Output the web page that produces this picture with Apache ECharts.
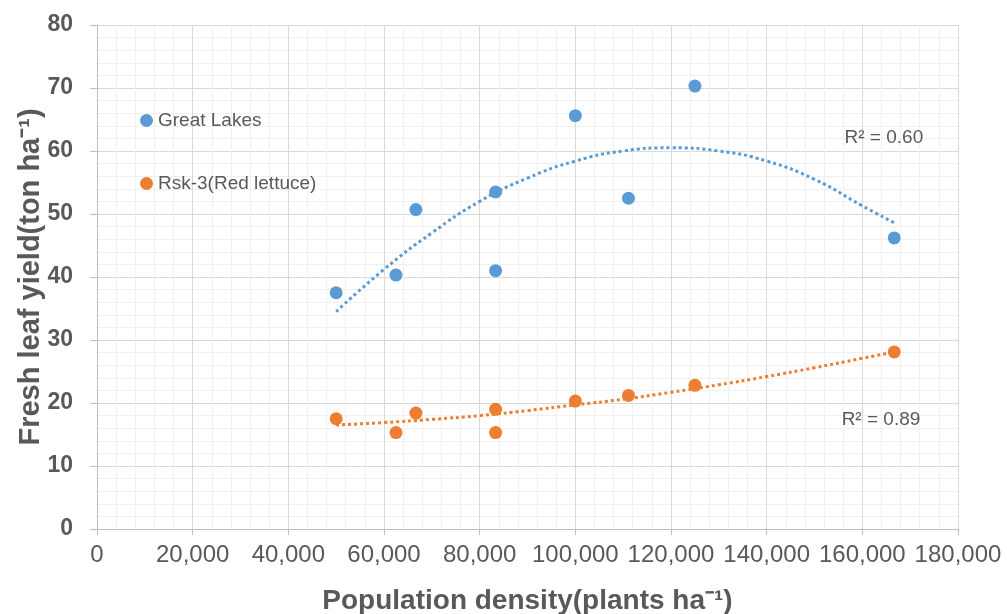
<!DOCTYPE html>
<html>
<head>
<meta charset="utf-8">
<script src="https://cdn.jsdelivr.net/npm/echarts@6/dist/echarts.min.js"></script>
<style>
  html, body { margin: 0; padding: 0; background: #fff; }
  #chart { width: 1007px; height: 614px; }
</style>
</head>
<body>
<div id="chart"></div>
<script>
// plant density (plants/ha) and yield (ton/ha)
const density = [50000, 62500, 66667, 83333, 83333, 100000, 111111, 125000, 166667]
const greatLakes = [37.5, 40.3, 50.7, 53.5, 41.0, 65.6, 52.5, 70.3, 46.2]
const redLettuce = [17.5, 15.3, 18.4, 19.0, 15.3, 20.3, 21.2, 22.8, 28.1]

// polynomial trend lines (as drawn in the figure)
const trendX = [50000, 60000, 70000, 80000, 90000, 100000, 110000, 120000, 130000, 140000, 150000, 160000, 166667]
const trendGreat = [34.5, 41.2, 47.0, 52.0, 55.7, 58.4, 60.0, 60.5, 60.0, 58.4, 55.5, 51.3, 48.6]
const trendRed = [16.5, 16.9, 17.4, 18.0, 18.8, 19.7, 20.6, 21.7, 22.9, 24.2, 25.6, 27.1, 28.1]

const r2Labels = ['R² = 0.60', 'R² = 0.89']
const r2Pos = [[164500, 62.1], [163900, 17.3]]

const names = ['Great Lakes', 'Rsk-3(Red lettuce)']
const colors = ['#5b9bd5', '#ed7d31']
const textColor = '#595959'
const font = 'Liberation Sans, Arial, sans-serif'

function pairs(xs, ys) {
  return xs.map((x, i) => [x, ys[i]])
}

let myChart = echarts.init(document.getElementById('chart'))

myChart.setOption({
  animation: false,
  backgroundColor: '#fff',
  grid: { left: 97, right: 49, top: 25, bottom: 85, containLabel: false, outerBoundsMode: 'none' },
  legend: {
    data: names,
    orient: 'vertical',
    left: 135,
    top: 106,
    itemGap: 44,
    itemWidth: 13,
    itemHeight: 13,
    icon: 'circle',
    textStyle: { color: textColor, fontSize: 19, fontFamily: font }
  },
  xAxis: {
    type: 'value',
    min: 0,
    max: 180000,
    interval: 20000,
    name: 'Population density(plants ha⁻¹)',
    nameLocation: 'middle',
    nameGap: 58,
    nameMoveOverlap: false,
    nameTextStyle: { color: textColor, fontSize: 28, fontWeight: 'bold', fontFamily: font },
    axisLine: { show: true, lineStyle: { color: '#bfbfbf', width: 1 } },
    axisTick: { show: true, length: 6, lineStyle: { color: '#bfbfbf' } },
    axisLabel: {
      color: textColor,
      fontSize: 24,
      margin: 14,
      fontFamily: font,
      formatter: v => v.toLocaleString('en-US')
    },
    splitLine: { show: true, lineStyle: { color: '#d9d9d9', width: 1 } },
    minorTick: { show: false, splitNumber: 5 },
    minorSplitLine: { show: true, lineStyle: { color: '#f0f0f0', width: 1 } }
  },
  yAxis: {
    type: 'value',
    min: 0,
    max: 80,
    interval: 10,
    name: 'Fresh leaf yield(ton ha⁻¹)',
    nameLocation: 'middle',
    nameGap: 52,
    nameMoveOverlap: false,
    nameTextStyle: { color: textColor, fontSize: 29, fontWeight: 'bold', fontFamily: font },
    axisLine: { show: true, lineStyle: { color: '#bfbfbf', width: 1 } },
    axisTick: { show: true, length: 7, lineStyle: { color: '#bfbfbf' } },
    axisLabel: {
      color: textColor,
      fontSize: 23,
      fontWeight: 'bold',
      margin: 24,
      fontFamily: font
    },
    splitLine: { show: true, lineStyle: { color: '#d9d9d9', width: 1 } },
    minorTick: { show: false, splitNumber: 5 },
    minorSplitLine: { show: true, lineStyle: { color: '#f0f0f0', width: 1 } }
  },
  series: [
    // 趋势线
    {
      name: 'trend1',
      type: 'line',
      data: pairs(trendX, trendGreat),
      smooth: true,
      showSymbol: false,
      silent: true,
      z: 2,
      lineStyle: { color: colors[0], width: 3, type: 'dotted' },
      markPoint: {
        symbol: 'circle',
        symbolSize: 0,
        label: { show: true, position: 'inside', formatter: r2Labels[0], color: textColor, fontSize: 19, fontFamily: font },
        data: [{ coord: r2Pos[0] }]
      }
    },
    {
      name: 'trend2',
      type: 'line',
      data: pairs(trendX, trendRed),
      smooth: true,
      showSymbol: false,
      silent: true,
      z: 2,
      lineStyle: { color: colors[1], width: 3, type: 'dotted' },
      markPoint: {
        symbol: 'circle',
        symbolSize: 0,
        label: { show: true, position: 'inside', formatter: r2Labels[1], color: textColor, fontSize: 19, fontFamily: font },
        data: [{ coord: r2Pos[1] }]
      }
    },
    {
      name: names[0],
      type: 'scatter',
      data: pairs(density, greatLakes),
      symbolSize: 13,
      z: 3,
      itemStyle: { color: colors[0], opacity: 1 }
    },
    {
      name: names[1],
      type: 'scatter',
      data: pairs(density, redLettuce),
      symbolSize: 13,
      z: 3,
      itemStyle: { color: colors[1], opacity: 1 }
    }
  ]
})
</script>
</body>
</html>
